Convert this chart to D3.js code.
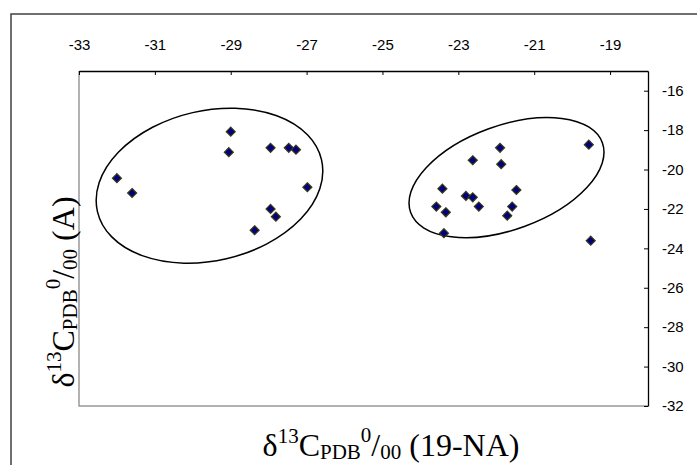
<!DOCTYPE html>
<html><head><meta charset="utf-8">
<script src="https://cdn.jsdelivr.net/npm/d3@7"></script>
<style>body{margin:0;background:#fff}svg{display:block}</style>
</head><body>
<svg id="c" width="697" height="465"></svg>
<script>
// Data
const groupA_x = [-32.0, -31.6, -29.0, -29.05, -27.95, -27.47, -27.28, -26.98, -27.95, -27.81, -28.37];
const groupA_y = [-20.44, -21.19, -18.08, -19.12, -18.9, -18.9, -18.99, -20.9, -22.0, -22.39, -23.08];
const groupB_x = [-21.9, -22.62, -21.87, -19.56, -23.42, -22.8, -22.62, -21.47, -23.58, -23.33, -22.46, -21.58, -21.71, -23.38, -19.51];
const groupB_y = [-18.9, -19.53, -19.73, -18.74, -20.97, -21.34, -21.41, -21.04, -21.88, -22.17, -21.88, -21.88, -22.34, -23.23, -23.61];
const xTicks = [-33, -31, -29, -27, -25, -23, -21, -19];
const yTicks = [-32, -30, -28, -26, -24, -22, -20, -18, -16];
const xDomain = [-33, -18];
const yDomain = [-32, -15];
// cluster ellipses: centre in data units
const ellipseCx = [-29.56, -21.73];
const ellipseCy = [-20.82, -20.41];

const svg = d3.select('#c');
const L = 79, R = 648, T = 71, B = 406;
const x = d3.scaleLinear().domain(xDomain).range([L, R]);
const y = d3.scaleLinear().domain(yDomain).range([B, T]);

// outer frame
svg.append('rect').attr('x', 11).attr('y', 14).attr('width', 700).attr('height', 470)
  .attr('fill', '#fff').attr('stroke', '#404040').attr('stroke-width', 1.5);

// plot area left/bottom grey border
svg.append('path').attr('d', `M${L},${T}V${B}H${R}`).attr('fill', 'none')
  .attr('stroke', '#999').attr('stroke-width', 1.5);

// top axis
const gx = svg.append('g').attr('transform', `translate(0,${T})`)
  .call(d3.axisTop(x).tickValues(xTicks).tickSize(-4).tickPadding(21).tickFormat(d => String(d)).tickSizeOuter(0));
// right axis
const gy = svg.append('g').attr('transform', `translate(${R},0)`)
  .call(d3.axisRight(y).tickValues(yTicks).tickSize(-4).tickPadding(14).tickFormat(d => String(d)).tickSizeOuter(0));
[gx, gy].forEach(g => {
  g.select('.domain').attr('stroke', '#000').attr('stroke-width', 1.3);
  g.selectAll('.tick line').attr('stroke', '#000').attr('stroke-width', 1);
  g.selectAll('.tick text').attr('font-family', 'Liberation Sans, Arial, sans-serif')
    .attr('font-size', 15).attr('fill', '#000');
});

// ellipses (semi-axes in px, rotation in deg)
const ellA = [115, 102], ellB = [75, 52], ellRot = [-13, -20];
ellipseCx.forEach((cx, i) => {
  svg.append('ellipse')
    .attr('transform', `translate(${x(cx)},${y(ellipseCy[i])}) rotate(${ellRot[i]})`)
    .attr('rx', ellA[i]).attr('ry', ellB[i])
    .attr('fill', 'none').attr('stroke', '#000').attr('stroke-width', 1.5);
});

// markers
const pts = groupA_x.map((v, i) => [v, groupA_y[i]]).concat(groupB_x.map((v, i) => [v, groupB_y[i]]));
const r = 4.5;
svg.append('g').selectAll('path').data(pts).join('path')
  .attr('d', d => `M${x(d[0])},${y(d[1]) - r}L${x(d[0]) + r},${y(d[1])}L${x(d[0])},${y(d[1]) + r}L${x(d[0]) - r},${y(d[1])}Z`)
  .attr('fill', '#000080').attr('stroke', '#3a3a10').attr('stroke-width', 1.2);

// axis titles
function title(sel, tail) {
  const big = 32, small = 21;
  sel.attr('font-family', 'Liberation Serif, Times New Roman, serif').attr('fill', '#000').attr('font-size', big);
  sel.append('tspan').text('δ');
  sel.append('tspan').attr('font-size', small).attr('dy', -13).text('13');
  sel.append('tspan').attr('dy', 13).text('C');
  sel.append('tspan').attr('font-size', small).attr('dy', 3).text('PDB');
  sel.append('tspan').attr('font-size', small).attr('dy', -17).text('0');
  sel.append('tspan').attr('dy', 14).text('/');
  sel.append('tspan').attr('font-size', small).attr('dy', 3).text('00');
  sel.append('tspan').attr('dy', -3).text('\u00a0' + tail);
}
title(svg.append('text').attr('x', 391).attr('y', 456).attr('text-anchor', 'middle'), '(19-NA)');
title(svg.append('text').attr('transform', 'translate(74,292) rotate(-90)').attr('text-anchor', 'middle'), '(A)');
</script>
</body></html>
